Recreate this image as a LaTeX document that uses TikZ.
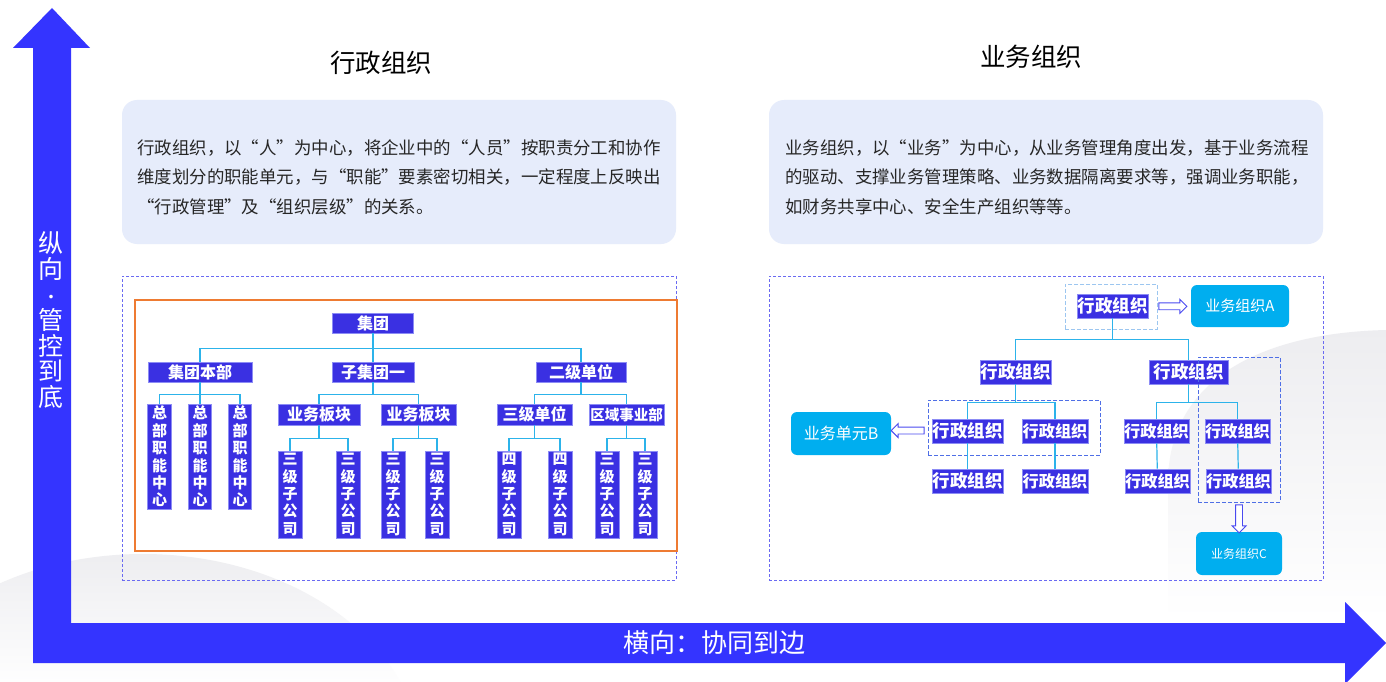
\documentclass[tikz,border=0pt]{standalone}
\usepackage{fontspec}
\setmainfont{Noto Sans CJK SC}
\usetikzlibrary{arrows.meta,shapes.arrows}
\definecolor{axisc}{HTML}{3434FF}
\definecolor{orgfill}{HTML}{3A30E2}
\definecolor{orgedge}{HTML}{8C8CF5}
\definecolor{connc}{HTML}{2CB3EA}
\definecolor{dashc}{HTML}{6A6AF2}
\definecolor{dashlb}{HTML}{9CC6F0}
\definecolor{dashb}{HTML}{4F6FE6}
\definecolor{orangec}{HTML}{EE7B32}
\definecolor{panelc}{HTML}{E6ECFB}
\definecolor{bizc}{HTML}{00AEEF}
\definecolor{holc}{HTML}{4A4AF0}
\definecolor{bgc}{HTML}{EDEDF0}
\definecolor{txtc}{HTML}{262626}
\newcommand\myfs[2]{\fontsize{#1}{#2}\selectfont}
\tikzset{
  org/.style={fill=orgfill, draw=orgedge, line width=0.8pt, text=white, inner sep=0pt, font=\bfseries\myfs{15}{17.4}, align=center},
  horg/.style={org, font=\bfseries\myfs{16}{18}},
  rorg/.style={org, font=\bfseries\myfs{17.5}{19}},
  sorg/.style={org, font=\bfseries\myfs{16.2}{18}},
  conn/.style={draw=connc, line width=1.2pt},
  biz/.style={fill=bizc, rounded corners=6pt, text=white, inner sep=0pt},
  panel/.style={fill=panelc, rounded corners=15pt, inner sep=0pt},
  outerdash/.style={draw=dashc, dash pattern=on 3pt off 2pt, line width=1pt},
  lbdash/.style={draw=dashlb, dash pattern=on 4pt off 2pt, line width=1pt, inner sep=0pt},
  bdash/.style={draw=dashb, dash pattern=on 4pt off 2pt, line width=1pt, inner sep=0pt},
  harrow/.style={single arrow, draw=holc, fill=white, line width=0.9pt, inner xsep=0pt, inner ysep=3pt,
    minimum width=1pt, single arrow head extend=3.6pt, single arrow head indent=0pt},
  body/.style={anchor=west, inner sep=0pt, text=txtc, font=\myfs{17.45}{20}},
  ttl/.style={text=black, font=\myfs{25.5}{28}},
}
\begin{document}
\begin{tikzpicture}[x=1pt,y=-1pt]
\useasboundingbox (0,0) rectangle (1386,682);
\fill[white] (0,0) rectangle (1386,682);
% faint background shapes
\begin{scope}
  \clip (143,760) ellipse [x radius=278, y radius=206];
  \shade[top color=bgc, bottom color=white] (0,550) rectangle (430,690);
\end{scope}
\begin{scope}
  \clip (1386,330) .. controls (1260,333) and (1170,380) .. (1168,480) -- (1168,682) -- (1386,682) -- cycle;
  \shade[top color=bgc, bottom color=white] (1160,328) rectangle (1386,620);
\end{scope}

% titles
\node[ttl] (t1) at (381,63) {行政组织};
\node[ttl] (t2) at (1031,57) {业务组织};

% text panels
\node[panel, minimum width=554, minimum height=144] (p1) at (399,172) {};
\node[panel, minimum width=554, minimum height=144] (p2) at (1046,172) {};
\node[body] (l1) at (137,148) {行政组织，以“人”为中心，将企业中的“人员”按职责分工和协作};
\node[body] (l2) at (137,177) {维度划分的职能单元，与“职能”要素密切相关，一定程度上反映出};
\node[body] (l3) at (137,207) {“行政管理”及“组织层级”的关系。};
\node[body] (r1t) at (785,148) {业务组织，以“业务”为中心，从业务管理角度出发，基于业务流程};
\node[body] (r2t) at (785,177) {的驱动、支撑业务管理策略、业务数据隔离要求等，强调业务职能，};
\node[body] (r3t) at (785,207) {如财务共享中心、安全生产组织等等。};

% frames
\node[outerdash, minimum width=554, minimum height=304, inner sep=0pt] (f1) at (399,428) {};
\node[outerdash, minimum width=554, minimum height=304, inner sep=0pt] (f2) at (1046,428) {};
\node[draw=orangec, line width=1.2pt, minimum width=542, minimum height=251, inner sep=0pt] (of) at (406,425.5) {};

% ---------- left chart ----------
\node[horg, minimum width=81, minimum height=20] (g) at (373,323) {集团};
\node[horg, minimum width=104, minimum height=20] (b1) at (200,372) {集团本部};
\node[horg, minimum width=82, minimum height=20] (b2) at (373,372) {子集团一};
\node[horg, minimum width=90, minimum height=20] (b3) at (581,372) {二级单位};
\foreach \n/\x in {c1/159.5,c2/200,c3/240}
  \node[org, minimum width=23.5, minimum height=105] (\n) at (\x,456.5) {总\\部\\职\\能\\中\\心};
\node[horg, minimum width=82, minimum height=21] (d1) at (319,414.5) {业务板块};
\node[horg, minimum width=75, minimum height=21] (d2) at (418.5,414.5) {业务板块};
\node[horg, minimum width=75, minimum height=21] (e1) at (534.5,414.5) {三级单位};
\node[org, minimum width=75, minimum height=21, font=\bfseries\myfs{14.5}{17}] (e2) at (626.5,414.5) {区域事业部};
\foreach \n/\x in {f1/290,f2/348,f3/393,f4/437,f7/607,f8/645}
  \node[org, minimum width=24, minimum height=87] (\n) at (\x,494.5) {三\\级\\子\\公\\司};
\foreach \n/\x in {f5/509,f6/560}
  \node[org, minimum width=24, minimum height=87] (\n) at (\x,494.5) {四\\级\\子\\公\\司};

\draw[conn] (g.south) -- ++(0,15) -| (b1.north);
\draw[conn] (g.south) -- ++(0,15) -| (b3.north);
\draw[conn] (g.south) -- (b2.north);
\foreach \c in {c1,c2,c3} \draw[conn] (b1.south) -- ++(0,12) -| (\c.north);
\foreach \c in {d1,d2} \draw[conn] (b2.south) -- ++(0,12) -| (\c.north);
\foreach \c in {e1,e2} \draw[conn] (b3.south) -- ++(0,12) -| (\c.north);
\foreach \c in {f1,f2} \draw[conn] (d1.south) -- ++(0,13) -| (\c.north);
\foreach \c in {f3,f4} \draw[conn] (d2.south) -- ++(0,13) -| (\c.north);
\foreach \c in {f5,f6} \draw[conn] (e1.south) -- ++(0,13) -| (\c.north);
\foreach \c in {f7,f8} \draw[conn] (e2.south) -- ++(0,13) -| (\c.north);

% ---------- right chart ----------
\node[rorg, minimum width=71, minimum height=24] (r0) at (1112.5,306) {行政组织};
\node[lbdash, minimum width=92, minimum height=45] (gr0) at (1111,306.5) {};
\node[biz, minimum width=98, minimum height=42, font=\myfs{15}{17}] (A) at (1240,306) {业务组织A};
\node[rorg, minimum width=71, minimum height=24] (q1) at (1015.5,372) {行政组织};
\node[rorg, minimum width=79, minimum height=24] (q2) at (1188.5,372) {行政组织};
\node[rorg, minimum width=71, minimum height=24] (q11) at (967.5,431) {行政组织};
\node[sorg, minimum width=66, minimum height=24] (q12) at (1055,431) {行政组织};
\node[rorg, minimum width=71, minimum height=24] (q111) at (967.5,481) {行政组织};
\node[sorg, minimum width=66, minimum height=24] (q121) at (1055,481) {行政组织};
\node[sorg, minimum width=65, minimum height=24] (q21) at (1156.5,431) {行政组织};
\node[sorg, minimum width=65, minimum height=24] (q22) at (1237.5,431) {行政组织};
\node[sorg, minimum width=65, minimum height=24] (q211) at (1157.5,481) {行政组织};
\node[sorg, minimum width=65, minimum height=24] (q221) at (1238.5,481) {行政组织};
\node[bdash, minimum width=172, minimum height=55] (gb) at (1014,427.5) {};
\node[bdash, minimum width=82, minimum height=145] (gc) at (1239,429.5) {};
\node[biz, minimum width=100, minimum height=43, font=\myfs{16}{18}] (B) at (841,433.5) {业务单元B};
\node[biz, minimum width=86, minimum height=43, font=\myfs{12}{14}] (C) at (1239,553.5) {业务组织C};

\draw[conn] (r0.south) -- ++(0,21) -| (q1.north);
\draw[conn] (r0.south) -- ++(0,21) -| (q2.north);
\draw[conn] (q1.south) -- ++(0,18) -| (q11.north);
\draw[conn] (q1.south) -- ++(0,18) -| (q12.north);
\draw[conn] (q2.south) -- ++(0,18) -| (q21.north);
\draw[conn] (q2.south) -- ++(0,18) -| (q22.north);
\draw[conn] (q11) -- (q111);
\draw[conn] (q12) -- (q121);
\draw[conn] (q21) -- (q211);
\draw[conn] (q22) -- (q221);

% hollow arrows
\path (gr0.east) -- (A.west) node[pos=0.41, harrow, minimum height=28pt] (ha) {};
\path (gb.west) -- (B.east) node[midway, harrow, minimum height=33pt, shape border rotate=180] (hb) {};
\path (gc.south) -- (C.north) node[midway, harrow, minimum height=28pt, rotate=-90] (hc) {};

% ---------- axes ----------
\fill[axisc] (52,8) -- (90,48) -- (71,48) -- (71,623) -- (1345,623) -- (1345,602)
  -- (1386,643) -- (1345,684) -- (1345,663) -- (33,663) -- (33,48) -- (13,48) -- cycle;
\node[text=white, align=center, inner sep=0pt, font=\myfs{25}{25.7}] (vax) at (51,320) {纵\\向\\{\myfs{17}{20}·}\\管\\控\\到\\底};
\node[text=white, inner sep=0pt, font=\myfs{26}{28}] (hax) at (714,643) {横向：协同到边};
\end{tikzpicture}
\end{document}
